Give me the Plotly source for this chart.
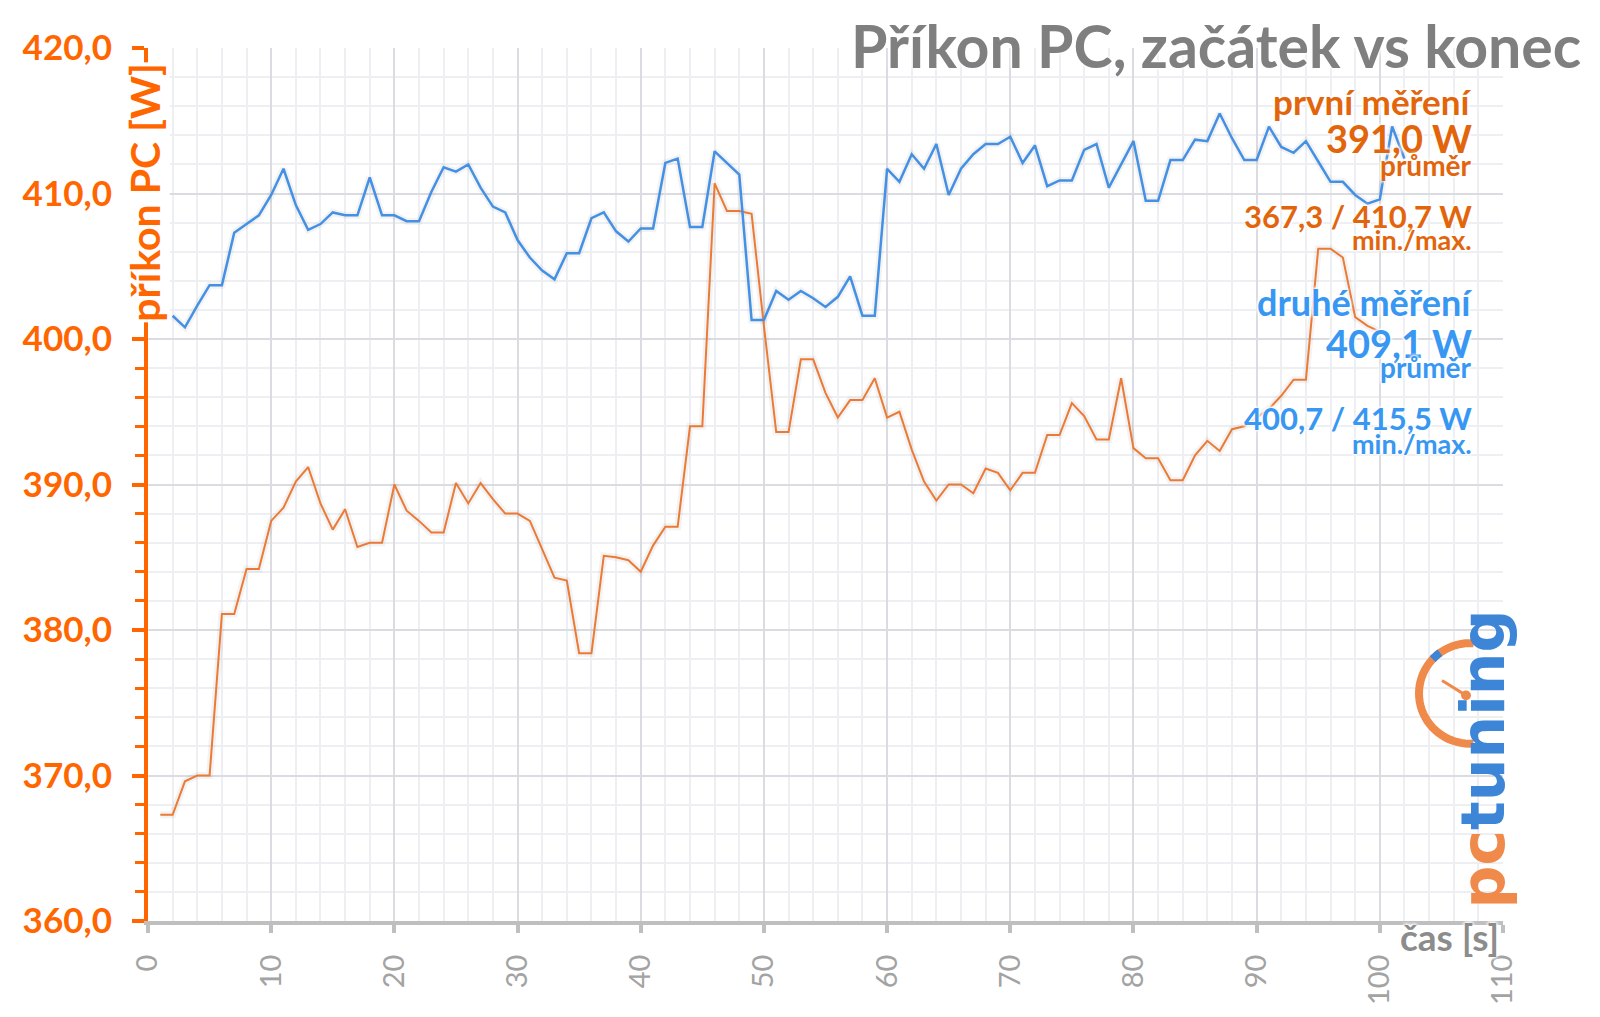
import math
import plotly.graph_objects as go

# ---------------- data ----------------
first_x = list(range(1, 101))
first_w = [367.3, 367.3, 369.6, 370.0, 370.0, 381.1, 381.1, 384.2, 384.2, 387.5,
           388.4, 390.2, 391.2, 388.7, 386.9, 388.3, 385.7, 386.0, 386.0, 390.0,
           388.2, 387.5, 386.7, 386.7, 390.1, 388.7, 390.1, 389.0, 388.0, 388.0,
           387.5, 385.5, 383.6, 383.4, 378.4, 378.4, 385.1, 385.0, 384.8, 384.0,
           385.8, 387.1, 387.1, 394.0, 394.0, 410.7, 408.8, 408.8, 408.6, 400.9,
           393.6, 393.6, 398.6, 398.6, 396.3, 394.6, 395.8, 395.8, 397.3, 394.6,
           395.0, 392.4, 390.2, 388.9, 390.0, 390.0, 389.4, 391.1, 390.8, 389.6,
           390.8, 390.8, 393.4, 393.4, 395.6, 394.7, 393.1, 393.1, 397.3, 392.5,
           391.8, 391.8, 390.3, 390.3, 392.0, 393.0, 392.3, 393.8, 394.0, 394.6,
           395.2, 396.1, 397.2, 397.2, 406.2, 406.2, 405.6, 401.5, 400.9, 400.5]

second_x = list(range(2, 103))
second_w = [401.6, 400.8, 402.3, 403.7, 403.7, 407.3, 407.9, 408.5, 409.9, 411.7,
            409.2, 407.5, 407.9, 408.7, 408.5, 408.5, 411.1, 408.5, 408.5, 408.1,
            408.1, 410.1, 411.8, 411.5, 412.0, 410.4, 409.1, 408.7, 406.8, 405.6,
            404.7, 404.1, 405.9, 405.9, 408.3, 408.7, 407.4, 406.7, 407.6, 407.6,
            412.1, 412.4, 407.7, 407.7, 412.9, 412.1, 411.3, 401.3, 401.3, 403.3,
            402.7, 403.3, 402.8, 402.2, 402.9, 404.3, 401.6, 401.6, 411.7, 410.8,
            412.7, 411.7, 413.4, 409.9, 411.7, 412.7, 413.4, 413.4, 413.9, 412.1,
            413.3, 410.5, 410.9, 410.9, 413.0, 413.4, 410.4, 412.0, 413.6, 409.5,
            409.5, 412.3, 412.3, 413.7, 413.6, 415.5, 413.8, 412.3, 412.3, 414.6,
            413.2, 412.8, 413.6, 412.2, 410.8, 410.8, 409.9, 409.3, 409.6, 414.6,
            412.4]

x_ticks = [0, 10, 20, 30, 40, 50, 60, 70, 80, 90, 100, 110]
y_ticks = [360, 370, 380, 390, 400, 410, 420]

title_text = "Příkon PC, začátek vs konec"
y_title = "příkon PC [W]"
x_title = "čas [s]"
first_label = ["první měření", "391,0 W", "průměr", "367,3 / 410,7 W", "min./max."]
second_label = ["druhé měření", "409,1 W", "průměr", "400,7 / 415,5 W", "min./max."]

# ---------------- styling ----------------
W, H = 1600, 1017
ML, MR, MT, MB = 148, 97, 48, 83
PW, PH = W - ML - MR, H - MT - MB

ORANGE_AX = "#FF6600"
ORANGE_TXT = "#E2650C"
ORANGE_LINE = "#EC7A35"
BLUE_TXT = "#3797F2"
BLUE_LINE = "#4490E4"
GRAY_T = "#7F7F7F"
FONT = "Lato"
GLOW = "0px 0px 3px #ffffff, 0px 0px 3px #ffffff, 0px 0px 4px #ffffff, 0px 0px 4px #ffffff"


def px(xp):
    return (xp - ML) / PW


def py(yp):
    return (H - MB - yp) / PH


fig = go.Figure()
# soft shadows under the lines
fig.add_trace(go.Scatter(x=first_x, y=first_w, mode="lines",
                         line=dict(color="rgba(90,90,90,0.07)", width=7),
                         hoverinfo="skip"))
fig.add_trace(go.Scatter(x=second_x, y=second_w, mode="lines",
                         line=dict(color="rgba(90,90,90,0.07)", width=7),
                         hoverinfo="skip"))
fig.add_trace(go.Scatter(x=first_x, y=first_w, mode="lines",
                         line=dict(color=ORANGE_LINE, width=2), name="první měření",
                         hoverinfo="skip"))
fig.add_trace(go.Scatter(x=second_x, y=second_w, mode="lines",
                         line=dict(color=BLUE_LINE, width=2.5), name="druhé měření",
                         hoverinfo="skip"))

fig.update_layout(
    width=W, height=H,
    margin=dict(l=ML, r=MR, t=MT, b=MB, pad=0),
    paper_bgcolor="white", plot_bgcolor="white",
    showlegend=False,
    separators=", ",
    font=dict(family=FONT),
    xaxis=dict(
        range=[0, 110], tickvals=x_ticks, ticktext=[str(v) for v in x_ticks],
        tickangle=-90,
        tickfont=dict(family=FONT, size=29, color="#A3A3A3"),
        showline=True, linecolor="#BFBFBF", linewidth=4,
        ticks="outside", ticklen=8, tickwidth=4, tickcolor="#BFBFBF",
        showgrid=True, gridcolor="#DADCE2", gridwidth=2,
        minor=dict(dtick=2, showgrid=True, gridcolor="#EEEFF3", gridwidth=1.5, ticks=""),
        zeroline=False, ticklabelstandoff=10,
    ),
    yaxis=dict(
        range=[360, 420], tickvals=y_ticks, tickformat=".1f",
        tickfont=dict(family=FONT, size=35, color=ORANGE_AX, weight="bold"),
        showline=True, linecolor=ORANGE_AX, linewidth=4,
        ticks="outside", ticklen=12, tickwidth=4, tickcolor=ORANGE_AX,
        showgrid=True, gridcolor="#DADCE2", gridwidth=2,
        minor=dict(dtick=2, showgrid=True, gridcolor="#EEEFF3", gridwidth=1.5,
                   ticks="outside", ticklen=9, tickwidth=3, tickcolor=ORANGE_AX),
        zeroline=False, ticklabelstandoff=13,
    ),
    yaxis2=dict(
        range=[360, 420], tickvals=y_ticks, overlaying="y", side="left",
        showticklabels=False, ticks="inside", ticklen=12, tickwidth=4,
        tickcolor=ORANGE_AX, showgrid=False, showline=False, zeroline=False,
    ),
)

ann = []
# chart title
ann.append(dict(text=f"<b>{title_text}</b>", x=px(1583), y=py(45), xref="paper", yref="paper",
                xanchor="right", yanchor="middle", showarrow=False,
                font=dict(family=FONT, size=59, color=GRAY_T, shadow=GLOW)))
# y axis title
ann.append(dict(text=f"<b>{y_title}</b>", x=px(145), y=py(195), xref="paper", yref="paper",
                xanchor="center", yanchor="middle", textangle=-90, showarrow=False,
                bgcolor="white", borderpad=0,
                font=dict(family=FONT, size=41, color=ORANGE_AX)))
# x axis title
ann.append(dict(text=f"<b>{x_title}</b>", x=px(1449), y=py(950), xref="paper", yref="paper",
                xanchor="center", yanchor="middle", showarrow=False,
                font=dict(family=FONT, size=37, color="#8C8C8C", shadow=GLOW)))

sizes1 = [35, 38, 28, 31, 27]
sizes2 = [36, 38, 28, 31, 27]
ys1 = [102, 139, 167, 218, 242]
ys2 = [306, 347, 372, 424, 449]
for lab, s, yy in zip(first_label, sizes1, ys1):
    ann.append(dict(text=f"<b>{lab}</b>", x=px(1474), y=py(yy), xref="paper", yref="paper",
                    xanchor="right", yanchor="middle", showarrow=False,
                    font=dict(family=FONT, size=s, color=ORANGE_TXT, shadow=GLOW)))
for lab, s, yy in zip(second_label, sizes2, ys2):
    ann.append(dict(text=f"<b>{lab}</b>", x=px(1474), y=py(yy), xref="paper", yref="paper",
                    xanchor="right", yanchor="middle", showarrow=False,
                    font=dict(family=FONT, size=s, color=BLUE_TXT, shadow=GLOW)))

# pctuning logo text
ann.append(dict(text="<span style='color:#F08A4B'>pc</span><span style='color:#3D85D6'>tuning</span>",
                x=px(1483), y=py(770), xref="paper", yref="paper",
                xanchor="center", yanchor="middle", textangle=-90, showarrow=False,
                font=dict(family="DejaVu Sans", size=60, weight="bold")))
fig.update_layout(annotations=ann)


# logo clock arc (decoration)
def arc_path(cx, cy, r, a0, a1, n=40):
    pts = []
    for i in range(n + 1):
        a = math.radians(a0 + (a1 - a0) * i / n)
        xx = cx + r * math.cos(a)
        yy = cy - r * math.sin(a)
        pts.append((px(xx), py(yy)))
    return "M " + " L ".join(f"{p[0]:.5f},{p[1]:.5f}" for p in pts)


shapes = [
    dict(type="path", xref="paper", yref="paper", path=arc_path(1470, 703, 51, 86, 274),
         line=dict(color="#F08A4B", width=8)),
    dict(type="path", xref="paper", yref="paper", path=arc_path(1470, 703, 51, 126, 137, 6),
         line=dict(color="#3D85D6", width=8)),
    dict(type="line", xref="paper", yref="paper", x0=px(1442), y0=py(690), x1=px(1466), y1=py(705),
         line=dict(color="#F08A4B", width=3)),
    dict(type="circle", xref="paper", yref="paper", x0=px(1461), y0=py(700), x1=px(1471), y1=py(710),
         line=dict(color="#F08A4B", width=0), fillcolor="#F08A4B"),
]
fig.update_layout(shapes=shapes)

fig.write_html("out.html", config={"displayModeBar": False})
